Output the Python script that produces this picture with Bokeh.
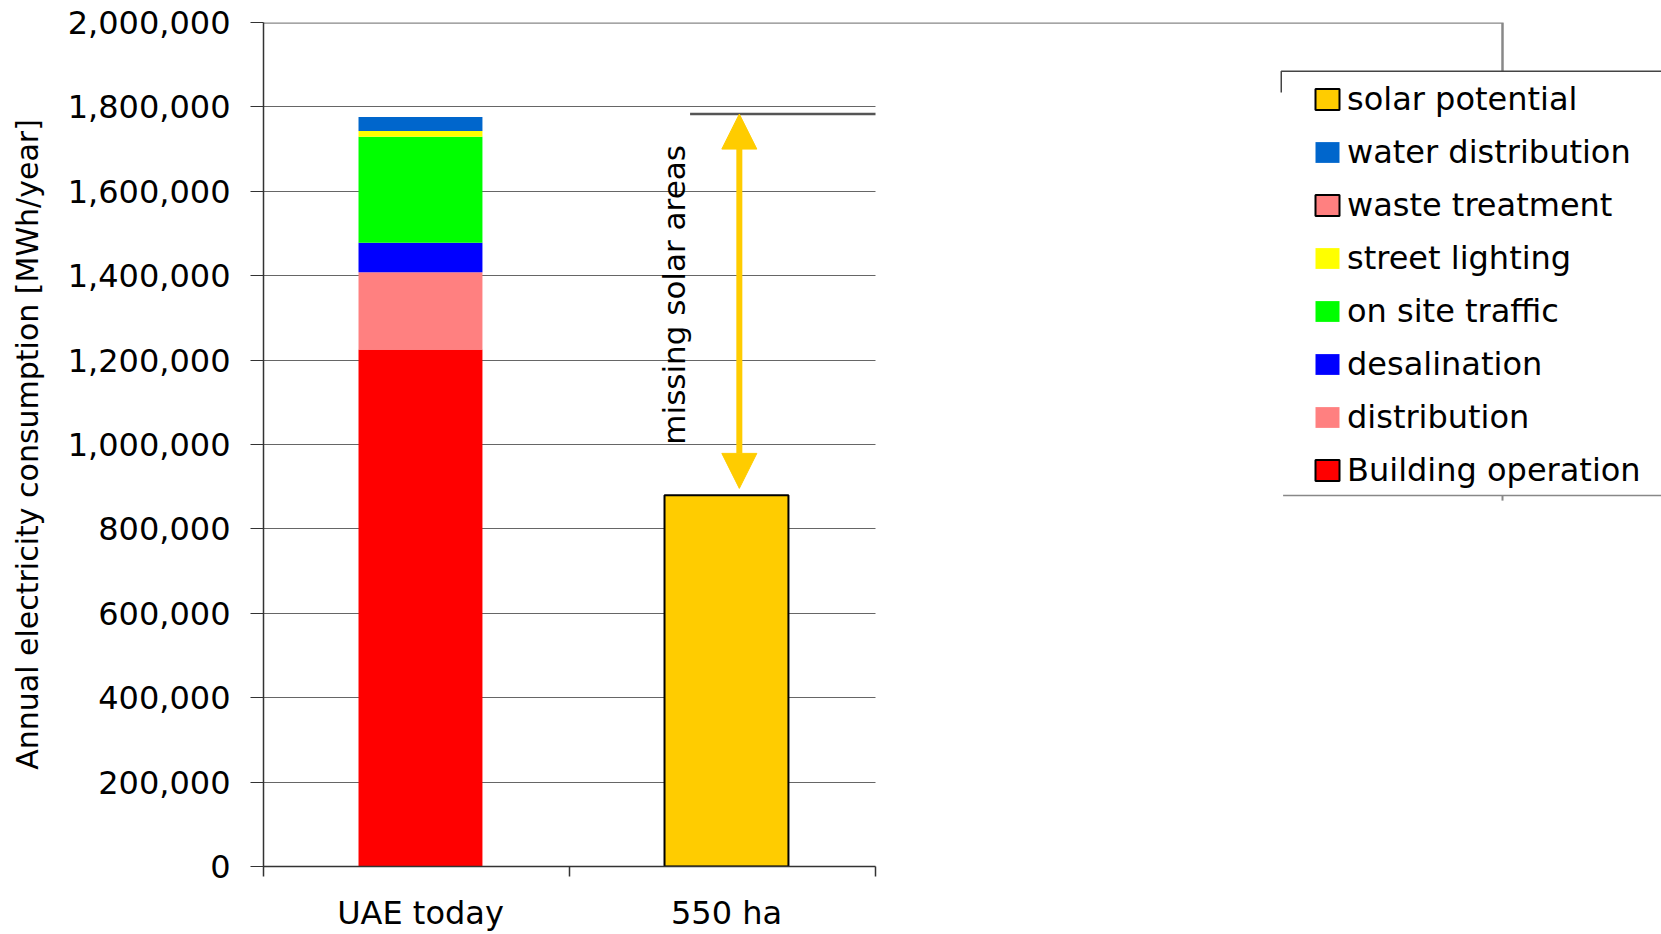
from bokeh.plotting import figure
from bokeh.models import (Range1d, FixedTicker, NumeralTickFormatter, Legend, LegendItem,
                          Arrow, NormalHead, Label)
from bokeh.embed import file_html
from bokeh.resources import INLINE

# ---------------- data ----------------
categories = ["UAE today", "550 ha"]
building_operation = [1225000, 0]
distribution = [183000, 0]
desalination = [70000, 0]
on_site_traffic = [251000, 0]
street_lighting = [14000, 0]
waste_treatment = [0, 0]
water_distribution = [33000, 0]
solar_potential = [0, 880000]
y_ticks = [0, 200000, 400000, 600000, 800000, 1000000, 1200000, 1400000, 1600000, 1800000, 2000000]
y_label = "Annual electricity consumption [MWh/year]"
arrow_text = "missing solar areas"

# ---------------- styles ----------------
FONT = "DejaVu Sans"
stack_series = [
    ("Building operation", building_operation, "#FF0000"),
    ("distribution", distribution, "#FF8080"),
    ("desalination", desalination, "#0000FF"),
    ("on site traffic", on_site_traffic, "#00FF00"),
    ("street lighting", street_lighting, "#FFFF00"),
    ("waste treatment", waste_treatment, "#FF8080"),
    ("water distribution", water_distribution, "#0066CC"),
]
SOLAR_COLOR = "#FFCC00"
legend_order = [
    ("solar potential", SOLAR_COLOR, "black"),
    ("water distribution", "#0066CC", None),
    ("waste treatment", "#FF8080", "black"),
    ("street lighting", "#FFFF00", None),
    ("on site traffic", "#00FF00", None),
    ("desalination", "#0000FF", None),
    ("distribution", "#FF8080", None),
    ("Building operation", "#FF0000", "black"),
]

BAR_W = 0.405
CAT_OFFSET = 0.513      # bar centre within each category slot
X_END = 4.5686          # frame spans the full width right of the y axis
FRAME_BOX_X = 4.049     # right edge of the chart-area border
LEGEND_BOX_X0 = 3.326

p = figure(width=1661, height=934, output_backend="svg", toolbar_location=None,
           x_range=Range1d(0, X_END), y_range=Range1d(0, 2000000),
           min_border_left=263, min_border_right=0, min_border_top=22, min_border_bottom=68)
p.outline_line_color = None
p.background_fill_color = "white"
p.border_fill_color = "white"

# ---------------- axes ----------------
ya = p.yaxis[0]
ya.ticker = FixedTicker(ticks=y_ticks)
ya.formatter = NumeralTickFormatter(format="0,0")
ya.major_label_text_font = FONT
ya.major_label_text_font_size = "32px"
ya.major_label_text_color = "black"
ya.major_tick_out = 13
ya.major_tick_in = 0
ya.minor_tick_line_color = None
ya.major_label_standoff = 20
ya.axis_line_color = "#333333"
ya.axis_line_width = 1.5
ya.major_tick_line_color = "#333333"
ya.axis_label = y_label
ya.axis_label_text_font = FONT
ya.axis_label_text_font_size = "30px"
ya.axis_label_text_font_style = "normal"
ya.axis_label_text_color = "black"
ya.axis_label_standoff = 20

xa = p.xaxis[0]
cat_centers = [i + CAT_OFFSET for i in range(len(categories))]
xa.ticker = FixedTicker(ticks=cat_centers, minor_ticks=list(range(len(categories) + 1)))
xa.major_label_overrides = {c: lab for c, lab in zip(cat_centers, categories)}
xa.major_tick_line_color = None
xa.major_tick_out = 0
xa.minor_tick_out = 10
xa.minor_tick_in = 0
xa.minor_tick_line_color = "#333333"
xa.minor_tick_line_width = 1.5
xa.axis_line_color = "#333333"
xa.axis_line_width = 1.5
xa.bounds = (0, len(categories))
xa.major_label_text_font = FONT
xa.major_label_text_font_size = "32px"
xa.major_label_text_color = "black"
xa.major_label_standoff = 17

p.xgrid.grid_line_color = None
yg = p.ygrid[0]
yg.ticker = FixedTicker(ticks=y_ticks)
yg.grid_line_color = "#666666"
yg.grid_line_width = 1
try:
    yg.cross_bounds = (0, len(categories))
except Exception:
    yg.grid_line_color = None
    p.segment(x0=[0] * len(y_ticks), x1=[len(categories)] * len(y_ticks), y0=y_ticks, y1=y_ticks,
              line_color="#666666", line_width=1, level="underlay")

# ---------------- stacked bars ----------------
bottoms = [0] * len(categories)
for name, vals, color in stack_series:
    xs, tops, bots = [], [], []
    for i, v in enumerate(vals):
        if v > 0:
            xs.append(cat_centers[i]); bots.append(bottoms[i]); tops.append(bottoms[i] + v)
        bottoms[i] += v
    p.vbar(x=xs, top=tops, bottom=bots, width=BAR_W, fill_color=color, line_color=None)

sx = [cat_centers[i] for i, v in enumerate(solar_potential) if v > 0]
st = [v for v in solar_potential if v > 0]
p.vbar(x=sx, top=st, bottom=0, width=BAR_W, fill_color=SOLAR_COLOR, line_color="black", line_width=2)

total = bottoms[0]
solar = max(solar_potential)

# reference line at the level of today's consumption
REF_Y = total + 7000
p.line(x=[1.394, len(categories)], y=[REF_Y, REF_Y], line_color="#555555", line_width=2.5)

# double arrow
ARROW_X = 1.555
arrow = Arrow(x_start=ARROW_X, y_start=solar + 16000, x_end=ARROW_X, y_end=REF_Y,
              line_color=SOLAR_COLOR, line_width=6,
              start=NormalHead(size=35, fill_color=SOLAR_COLOR, line_color=SOLAR_COLOR, line_width=1),
              end=NormalHead(size=35, fill_color=SOLAR_COLOR, line_color=SOLAR_COLOR, line_width=1))
p.add_layout(arrow)

lbl = Label(x=1.343, y=(solar + total) / 2 + 26500, text=arrow_text, angle=90, angle_units="deg",
            text_align="center", text_baseline="middle", text_font=FONT, text_font_size="31px",
            text_color="black")
p.add_layout(lbl)

# ---------------- chart-area / legend border decorations ----------------
p.line(x=[0, FRAME_BOX_X, FRAME_BOX_X], y=[2000000, 2000000, 1884600], line_color="#888888", line_width=2.5)
p.line(x=[FRAME_BOX_X, FRAME_BOX_X], y=[879000, 867000], line_color="#888888", line_width=2)
p.line(x=[LEGEND_BOX_X0, LEGEND_BOX_X0, X_END], y=[1834000, 1884600, 1884600], line_color="#444444", line_width=1.5)
p.line(x=[LEGEND_BOX_X0 + 0.006, X_END], y=[879000, 879000], line_color="#888888", line_width=1.5)

# ---------------- legend (proxy renderers placed outside the visible range) ----------------
items = []
for name, color, border in legend_order:
    r = p.vbar(x=[-10], top=[1], bottom=[0], width=BAR_W, fill_color=color,
               line_color=border if border else None, line_width=2)
    items.append(LegendItem(label=name, renderers=[r]))

legend = Legend(items=items, location=(1049, 377), padding=0, margin=0, spacing=15,
                glyph_width=30, glyph_height=26, label_height=37, label_standoff=5,
                label_text_font=FONT, label_text_font_size="32px", label_text_color="black",
                border_line_color=None, background_fill_alpha=0)
p.add_layout(legend, "center")

open("out.html", "w").write(file_html(p, INLINE))
